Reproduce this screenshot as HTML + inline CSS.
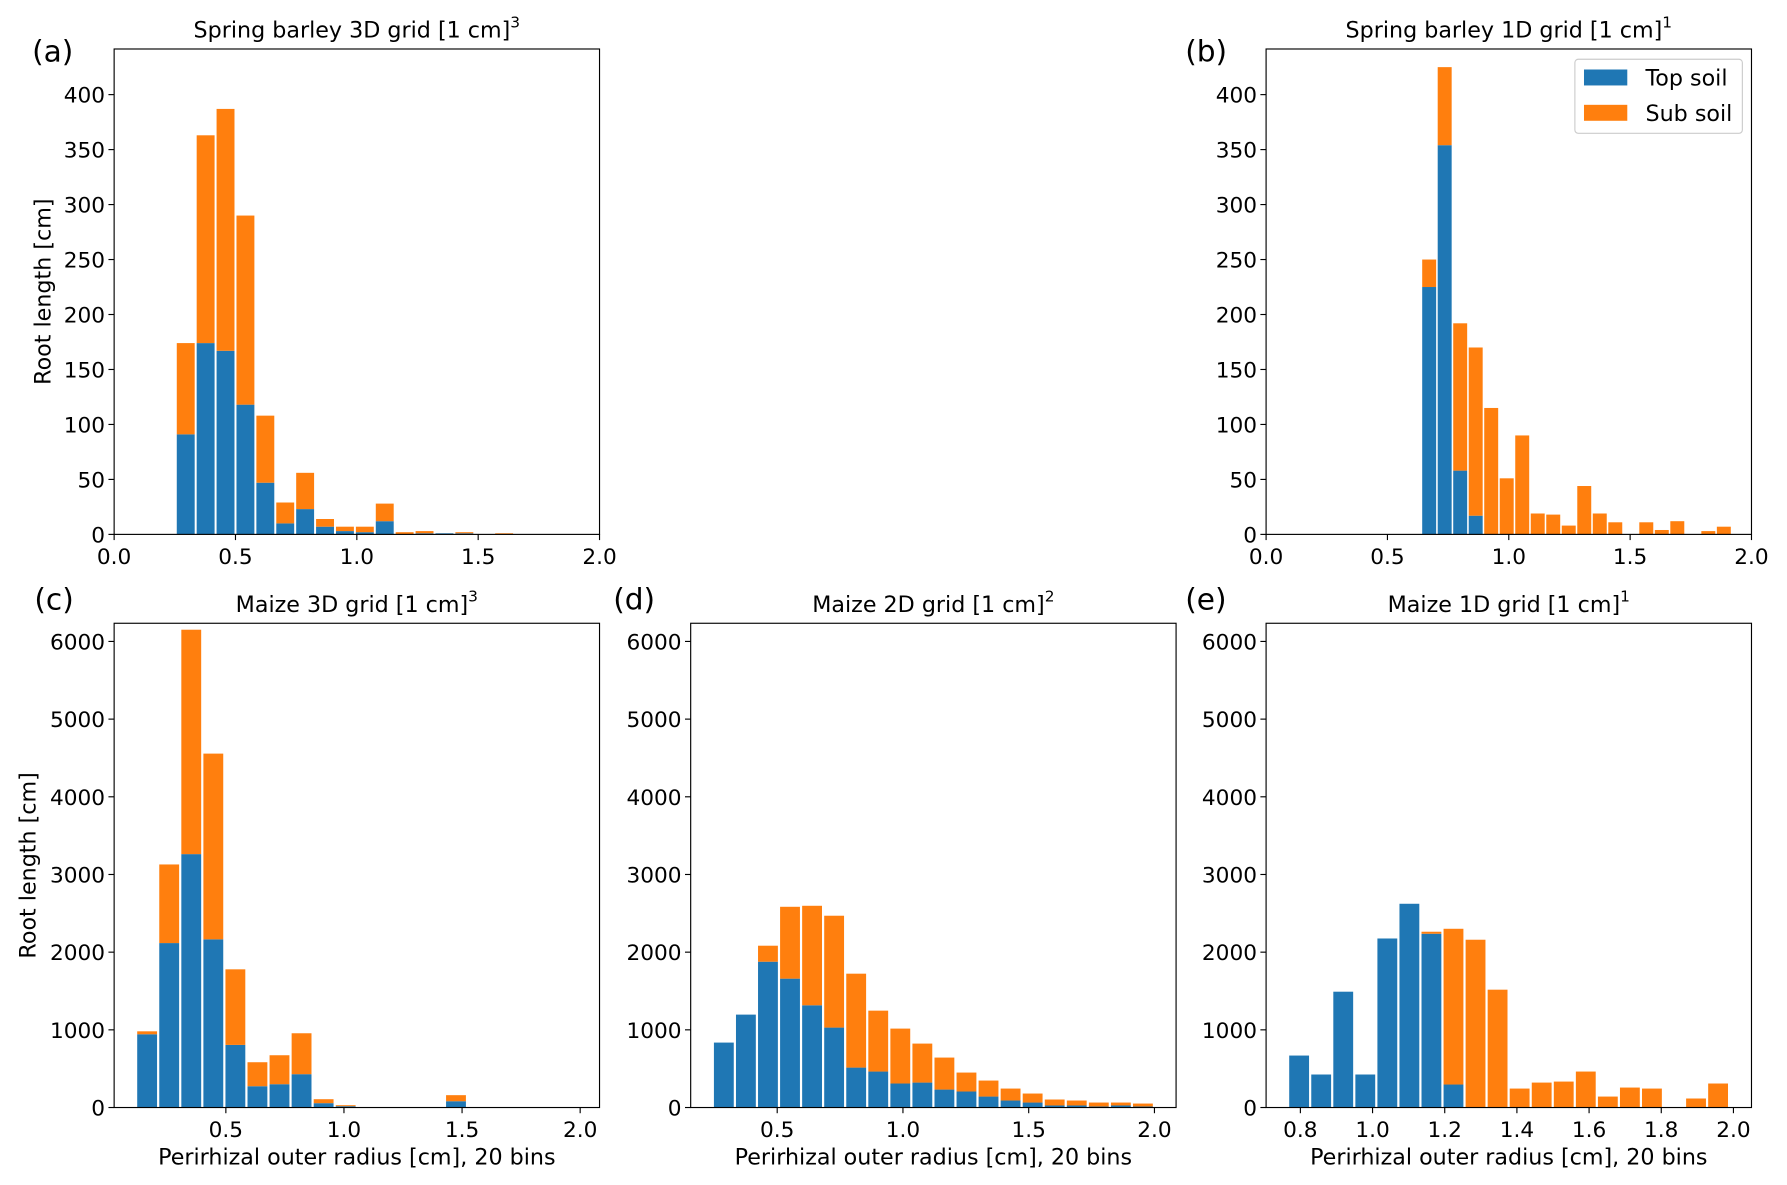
<!DOCTYPE html>
<html><head><meta charset="utf-8"><style>
html,body{margin:0;padding:0;background:#fff}
svg{display:block}
text{font-family:"DejaVu Sans","Liberation Sans",sans-serif;fill:#000}
</style></head><body>
<svg id="fig" width="1787" height="1185" viewBox="0 0 1568 1040" xmlns="http://www.w3.org/2000/svg"></svg>
<script>
// ---- data ----
const aTop = [91,174,167,118,47,10,23,7,3,2,12,0,1,1,1,0,0,0,0,0];
const aSub = [83,189,220,172,61,19,33,7,4,5,16,2,2,0,1,0,1,0,0,0];
const bTop = [225,354,58,17,0,0,0,0,0,0,0,0,0,0,0,0,0,0,0,0];
const bSub = [25,71,134,153,115,51,90,19,18,8,44,19,11,0,11,4,12,0,3,7];
const cTop = [943,2117,3262,2165,806,274,300,429,56,17,0,0,0,0,81,0,0,0,0,0];
const cSub = [38,1012,2889,2391,973,309,373,527,51,13,0,0,0,0,78,0,0,0,0,0];
const dTop = [836,1196,1877,1659,1316,1029,514,463,309,321,231,206,141,90,64,26,26,13,26,13];
const dSub = [0,0,206,925,1281,1440,1209,784,707,502,412,244,206,154,116,77,64,51,38,38];
const eTop = [669,425,1491,425,2176,2623,2237,296,0,0,0,0,0,0,0,0,0,0,0,0];
const eSub = [0,0,0,0,0,0,26,2005,2160,1517,244,321,334,463,141,257,244,0,116,309];
const xTicksA = [0.0,0.5,1.0,1.5,2.0];
const xTicksC = [0.5,1.0,1.5,2.0];
const xTicksE = [0.8,1.0,1.2,1.4,1.6,1.8,2.0];
const yTicksTop = [0,50,100,150,200,250,300,350,400];
const yTicksBot = [0,1000,2000,3000,4000,5000,6000];

const NS = "http://www.w3.org/2000/svg";
const svg = document.getElementById('fig');
function mk(tag, attrs, parent, txt){
  const e = document.createElementNS(NS, tag);
  for (const k in attrs) e.setAttribute(k, attrs[k]);
  if (txt !== undefined) e.textContent = txt;
  (parent||svg).appendChild(e);
  return e;
}

function panel(o){
  const g = mk('g', {});
  
  
  const L=o.L, R=o.R, T=o.T, B=o.B;
  const sx = v => L + (v - o.xmin) / (o.xmax - o.xmin) * (R - L);
  const sy = v => B - v / o.ymax * (B - T);
  const bw = o.bin;
  for (let i = 0; i < o.top.length; i++) {
    const x0 = o.lo + i * bw + bw * 0.05, x1 = x0 + bw * 0.9;
    const t = o.top[i], s = o.sub[i];
    if (t > 0) {
      const r = mk('rect', {x:sx(x0), y:sy(t), width:sx(x1)-sx(x0), height:sy(0)-sy(t), fill:'#1f77b4'}, g);
      
      
    }
    if (s > 0) {
      const r = mk('rect', {x:sx(x0), y:sy(t+s), width:sx(x1)-sx(x0), height:sy(t)-sy(t+s), fill:'#ff7f0e'}, g);
      
      
    }
  }
  const fr = mk('rect', {x:L, y:T, width:R-L, height:B-T, fill:'none', stroke:'#000', 'stroke-width':1}, g);
  
  
  o.xt.forEach(v => {
    const x = sx(v);
    mk('line', {x1:x, x2:x, y1:B, y2:B+5, stroke:'#000'}, g);
    const t = mk('text', {x:x, y:B+26, 'text-anchor':'middle', 'font-size':19}, g, v.toFixed(1));
    
    
  });
  o.yt.forEach(v => {
    const y = sy(v);
    mk('line', {x1:L-5, x2:L, y1:y, y2:y, stroke:'#000'}, g);
    const t = mk('text', {x:L-8, y:y+7, 'text-anchor':'end', 'font-size':19}, g, String(v));
    
    
  });
  const ti = mk('text', {x:(L+R)/2, y:T-10, 'text-anchor':'middle', 'font-size':19.5}, g);
  
  
  mk('tspan', {}, ti, o.title);
  mk('tspan', {'font-size':13.5, dy:-9}, ti, o.sup);
  const pl = mk('text', {x:o.plx, y:o.ply, 'font-size':26}, g, o.letter);
  
  
  if (o.ylab) {
    const yl = mk('text', {x:0, y:0, 'text-anchor':'middle', 'font-size':19.5, transform:`translate(${o.ylabX},${(T+B)/2}) rotate(-90)`}, g, 'Root length [cm]');
    
    
  }
  if (o.xlab) {
    const xl = mk('text', {x:(L+R)/2, y:B+50, 'text-anchor':'middle', 'font-size':19.5}, g, 'Perirhizal outer radius [cm], 20 bins');
    
    
  }
  return g;
}

panel({name:'panel-a', L:100,R:526,T:43,B:469, xmin:0,xmax:2, ymax:441.5, lo:0.254, bin:0.082,
  top:aTop, sub:aSub, xt:xTicksA, yt:yTicksTop, title:'Spring barley 3D grid [1 cm]', sup:'3', letter:'(a)', plx:28, ply:54, ylab:true, ylabX:44});
panel({name:'panel-b', L:1111,R:1537,T:43,B:469, xmin:0,xmax:2, ymax:441.5, lo:0.640, bin:0.0639,
  top:bTop, sub:bSub, xt:xTicksA, yt:yTicksTop, title:'Spring barley 1D grid [1 cm]', sup:'1', letter:'(b)', plx:1040, ply:54});
panel({name:'panel-c', L:100,R:526,T:547,B:972, xmin:0.027,xmax:2.082, ymax:6234, lo:0.12, bin:0.0934,
  top:cTop, sub:cSub, xt:xTicksC, yt:yTicksBot, title:'Maize 3D grid [1 cm]', sup:'3', letter:'(c)', plx:30, ply:535, ylab:true, ylabX:31, xlab:true});
panel({name:'panel-d', L:606,R:1032,T:547,B:972, xmin:0.156,xmax:2.086, ymax:6234, lo:0.244, bin:0.0877,
  top:dTop, sub:dSub, xt:xTicksC, yt:yTicksBot, title:'Maize 2D grid [1 cm]', sup:'2', letter:'(d)', plx:538, ply:535, xlab:true});
panel({name:'panel-e', L:1111,R:1537,T:547,B:972, xmin:0.705,xmax:2.05, ymax:6234, lo:0.766, bin:0.0611,
  top:eTop, sub:eSub, xt:xTicksE, yt:yTicksBot, title:'Maize 1D grid [1 cm]', sup:'1', letter:'(e)', plx:1040, ply:535, xlab:true});

// legend
const lg = mk('g', {});


mk('rect', {x:1382, y:52, width:147, height:65, rx:3, fill:'#fff', 'fill-opacity':0.8, stroke:'#ccc'}, lg);
const l1 = mk('g', {}, lg);


mk('rect', {x:1390, y:61, width:38, height:14, fill:'#1f77b4'}, l1);
mk('text', {x:1444, y:75, 'font-size':19.5}, l1, 'Top soil');
const l2 = mk('g', {}, lg);


mk('rect', {x:1390, y:92, width:38, height:14, fill:'#ff7f0e'}, l2);
mk('text', {x:1444, y:106, 'font-size':19.5}, l2, 'Sub soil');
</script>
</body></html>
